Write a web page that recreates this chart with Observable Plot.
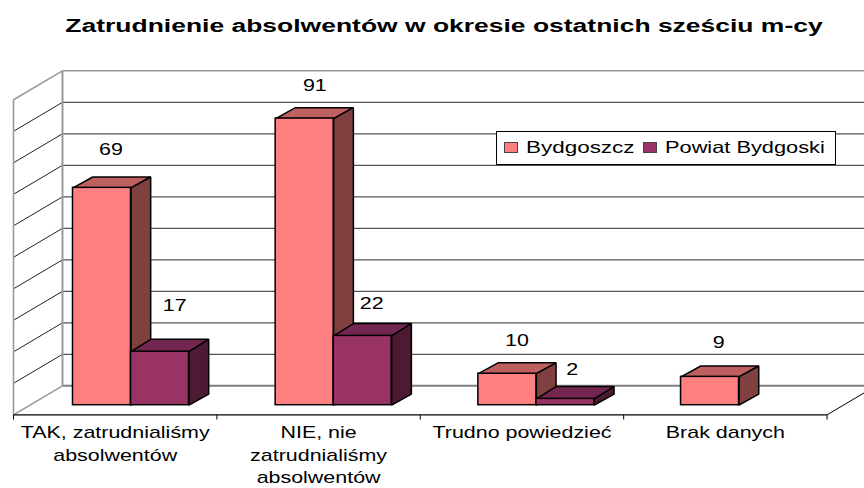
<!DOCTYPE html>
<html lang="pl">
<head>
<meta charset="utf-8">
<script src="https://cdn.jsdelivr.net/npm/d3@7"></script>
<script src="https://cdn.jsdelivr.net/npm/@observablehq/plot@0.6"></script>
<style>
  html, body { margin: 0; padding: 0; background: #fff; }
  body { width: 864px; height: 488px; position: relative; overflow: hidden; font-family: "Liberation Sans", Arial, sans-serif; }
  #title { height: 50px; position: relative; }
  #title span { position: absolute; left: 443.5px; top: 15px; white-space: nowrap; font-weight: bold; font-size: 18px; line-height: 22px; transform: translateX(-50%) scaleX(1.47); color: #000; }
  #plot svg { display: block; }
  #legend { position: absolute; left: 496px; top: 131px; width: 338px; height: 32px; background: #fff; border: 1px solid #000; box-sizing: content-box; }
  #legend i { position: absolute; top: 10px; width: 12px; height: 9px; border: 1px solid #444; box-sizing: content-box; }
  #legend span { position: absolute; top: 4px; font-size: 16.5px; line-height: 22px; white-space: nowrap; transform-origin: left center; transform: scaleX(1.36); color: #000; }
</style>
</head>
<body>
<div id="title"><span>Zatrudnienie absolwentów w okresie ostatnich sześciu m-cy</span></div>
<div id="plot"></div>
<div id="legend">
  <i style="left:7px;background:#FF8080"></i><span style="left:29px">Bydgoszcz</span>
  <i style="left:146px;background:#993366"></i><span style="left:168px;transform:scaleX(1.32)">Powiat Bydgoski</span>
</div>
<script>
const categories = ["TAK, zatrudnialiśmy\nabsolwentów", "NIE, nie\nzatrudnialiśmy\nabsolwentów", "Trudno powiedzieć", "Brak danych"];
const bydgoszcz = [69, 91, 10, 9];
const powiat = [17, 22, 2, null];
const gridValues = [0, 10, 20, 30, 40, 50, 60, 70, 80, 90, 100];

// Extra lift of each value label above its bar (value units)
const liftB = [12.2, 10.5, 10.5, 10.9];
const liftP = [14.6, 10.3, 9.3, 0];
const nudgeB = [0.044, 0.05, 0.047, 0.042];
const nudgeP = [0.072, 0.044, 0.033, 0];

// Oblique projection constants, in data units
const wallFloor = -3.05, wallDX = 0.2408, wallDY = 9.2;
const barStart = 0.2925, barStep = 0.9965, barW = 0.2852, barDX = 0.0968;
const xMax = 4.184;

const bars = [];
const faces = [];
function addBar(series, i, value, k, barDY, front, top, side) {
  if (value == null) return;
  const x0 = barStart + i * barStep + k * barW, x1 = x0 + barW;
  bars.push({series, x0, x1, value, front});
  const id = series + i;
  [[x0, value], [x1, value], [x1 + barDX, value + barDY], [x0 + barDX, value + barDY]]
    .forEach(([x, y]) => faces.push({id: id + "t", x, y, fill: top}));
  [[x1, 0], [x1, value], [x1 + barDX, value + barDY], [x1 + barDX, 3.5]]
    .forEach(([x, y]) => faces.push({id: id + "s", x, y, fill: side}));
}
categories.forEach((c, i) => {
  addBar("B", i, bydgoszcz[i], 0, 3.45, "#FF8080", "#BF6060", "#804040");
  addBar("P", i, powiat[i], 1, 3.9, "#993366", "#732650", "#4D1A33");
});

const labels = [];
categories.forEach((c, i) => {
  labels.push({x: barStart + i * barStep + barW / 2 + nudgeB[i], y: bydgoszcz[i] + liftB[i], t: String(bydgoszcz[i])});
  if (powiat[i] != null) labels.push({x: barStart + i * barStep + barW * 1.5 + nudgeP[i], y: powiat[i] + liftP[i], t: String(powiat[i])});
});

const back = v => v + wallFloor + wallDY;
const gridInner = gridValues.filter(v => v > 0 && v < 100);
const rows = categories.map((c, i) => ({c, i}));

const chart = Plot.plot({
  width: 864, height: 438,
  marginTop: 0, marginBottom: 0, marginLeft: 0, marginRight: 0,
  x: {type: "linear", domain: [0, xMax], range: [13, 864], axis: null},
  y: {type: "linear", domain: [-26.44, 112.6], range: [438, 0], axis: null},
  style: {fontFamily: '"Liberation Sans", Arial, sans-serif', background: "#fff", overflow: "visible"},
  marks: [
    // back wall grid
    Plot.link(gridInner, {x1: wallDX, y1: back, x2: xMax, y2: back, stroke: "#555", strokeWidth: 1.2}),
    Plot.link([100], {x1: wallDX, y1: back, x2: xMax, y2: back, stroke: "#999", strokeWidth: 1.6}),
    Plot.link([0], {x1: wallDX, y1: back, x2: xMax, y2: back, stroke: "#808080", strokeWidth: 2}),
    // left wall grid
    Plot.link(gridInner, {x1: wallDX, y1: back, x2: 0, y2: v => v + wallFloor, stroke: "#222", strokeWidth: 1}),
    // wall edges
    Plot.link([0, 100], {x1: wallDX, y1: back, x2: 0, y2: v => v + wallFloor, stroke: "#999", strokeWidth: 1.6}),
    Plot.link([0], {x1: wallDX, y1: back, x2: wallDX, y2: () => back(100), stroke: "#999", strokeWidth: 2}),
    Plot.link([0], {x1: 0, y1: wallFloor, x2: 0, y2: wallFloor + 100, stroke: "#999", strokeWidth: 1.6}),
    // floor front edge, ticks and right edge
    Plot.link([0], {x1: 0, y1: wallFloor, x2: categories.length, y2: wallFloor, stroke: "#000", strokeWidth: 1.2}),
    Plot.link(d3.range(categories.length + 1), {x1: d => d, y1: wallFloor, x2: d => d, y2: wallFloor - 1.5, stroke: "#000", strokeWidth: 1}),
    Plot.link([0], {x1: categories.length, y1: wallFloor, x2: categories.length + wallDX, y2: wallFloor + wallDY, stroke: "#000", strokeWidth: 1}),
    // 3-D bar faces
    Plot.line(faces, {x: "x", y: "y", z: "id", fill: "fill", stroke: "#000", strokeWidth: 1.5, curve: "linear-closed", strokeLinejoin: "miter"}),
    Plot.rect(bars, {x1: "x0", x2: "x1", y1: 0, y2: "value", fill: "front", stroke: "#000", strokeWidth: 1.5}),
    // value labels
    Plot.text(labels, {x: "x", y: "y", text: "t", fontSize: 16, fill: "#000"}),
    // category labels
    Plot.text(rows, {x: d => d.i + 0.5, y: wallFloor, text: "c", fontSize: 16, fill: "#000", lineAnchor: "top", lineHeight: 1.42, dy: 7})
  ]
});
document.getElementById("plot").appendChild(chart);
d3.select(chart).selectAll("text").each(function () {
  const t = this.getAttribute("transform") || "";
  this.setAttribute("transform", t + " scale(1.34,1)");
});
</script>
</body>
</html>
